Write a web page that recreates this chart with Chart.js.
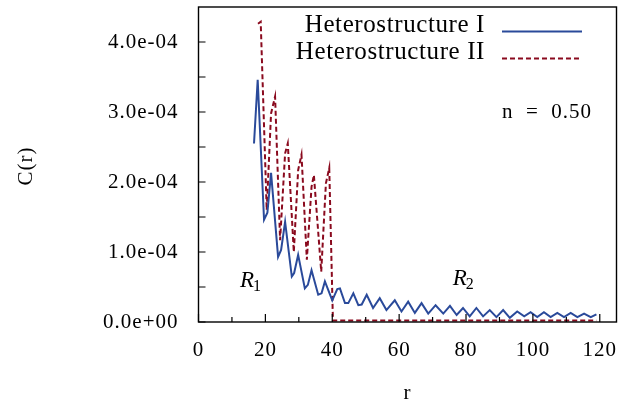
<!DOCTYPE html>
<html><head><meta charset="utf-8">
<script src="https://cdn.jsdelivr.net/npm/chart.js@4"></script>
<style>html,body{margin:0;padding:0;background:#fff}#wrap{width:624px;height:402px}</style>
</head><body><div id="wrap"><canvas id="c" width="624" height="402"></canvas></div>
<script>
// Heterostructure I (solid blue): r and C(r) in units of 1e-4
const rI = [16.6,17.7,19.6,20.6,21.7,23.8,24.7,25.9,27.9,28.6,29.8,31.8,32.7,33.8,35.8,36.8,37.8,40.0,41.5,42.3,43.8,44.8,46.3,47.8,48.8,50.3,52.2,54.2,56.2,58.7,60.7,62.7,64.7,66.7,68.7,70.9,73.2,75.2,77.2,79.1,81.1,83.1,85.1,87.1,89.1,91.1,93.1,95.3,97.4,99.3,101.3,103.3,105.3,107.3,109.3,111.3,113.3,115.3,117.3,119.0];
const cI = [2.55,3.46,1.46,1.56,2.13,0.93,1.03,1.43,0.65,0.70,0.96,0.48,0.53,0.74,0.39,0.41,0.58,0.31,0.47,0.48,0.27,0.27,0.41,0.24,0.25,0.39,0.20,0.34,0.17,0.31,0.15,0.29,0.13,0.27,0.12,0.24,0.12,0.23,0.10,0.20,0.08,0.20,0.08,0.17,0.07,0.17,0.06,0.15,0.08,0.14,0.07,0.14,0.07,0.13,0.07,0.13,0.07,0.12,0.07,0.11];
// Heterostructure II (dashed dark red)
const rII = [17.8,18.6,20.4,21.7,22.9,24.4,25.9,26.7,28.5,29.8,30.8,32.4,33.8,34.5,36.7,38.1,39.1,40.2,60,80,100,119];
const cII = [4.26,4.29,1.60,2.98,3.22,1.17,2.41,2.55,1.00,2.17,2.39,0.89,1.93,2.10,0.72,1.98,2.20,0.02,0.02,0.02,0.02,0.02];
const seriesLabels = ['Heterostructure I','Heterostructure II'];
const seriesColors = ['#2a4a9a','#8a0a1e'];
const xTickStep = 20, xMinorStep = 10, xMax = 125;
const yTickStep = 1, yMinorStep = 0.5, yMax = 4.5;   // units of 1e-4
const yUnit = 1e-4;
const annotationText = 'n = 0.50';
const xTitle = 'r', yTitle = 'C(r)';
const regionLabels = [{base:'R', sub:'1', r:12.4, c:0.50}, {base:'R', sub:'2', r:76.0, c:0.53}];

const SERIF = '"Liberation Serif", "Times New Roman", serif';

function fmt(v){
  const x = v*yUnit;
  if (Math.abs(x) < 1e-12) return '0.0e+00';
  const s = x.toExponential(1);
  const [m, e] = s.split('e');
  const n = parseInt(e,10);
  const sign = n < 0 ? '-' : '+';
  const a = Math.abs(n);
  return m + 'e' + sign + (a < 10 ? '0' + a : '' + a);
}
const pts = (xs, ys) => xs.map((x,i)=>({x:x, y:ys[i]}));

const decor = {
  id:'decor',
  beforeDraw(chart){
    try { chart.ctx.letterSpacing = '1px'; } catch(e) {}
  },
  afterDraw(chart){
    const ctx = chart.ctx, a = chart.chartArea;
    const xs = chart.scales.x, ys = chart.scales.y;
    ctx.save();
    ctx.strokeStyle = '#000';
    ctx.lineWidth = 1.4;
    ctx.strokeRect(a.left, a.top, a.right-a.left, a.bottom-a.top);
    ctx.lineWidth = 1.2;
    ctx.beginPath();
    for (let v = 0; v <= 120 + 1e-9; v += xMinorStep){
      const px = xs.getPixelForValue(v);
      const major = Math.abs(v/xTickStep - Math.round(v/xTickStep)) < 1e-9;
      const len = major ? 8 : 5;
      ctx.moveTo(px, a.bottom); ctx.lineTo(px, a.bottom - len);
    }
    for (let v = 0; v <= 4 + 1e-9; v += yMinorStep){
      const py = ys.getPixelForValue(v);
      ctx.moveTo(a.left, py); ctx.lineTo(a.left + 7, py);
    }
    ctx.stroke();

    // legend
    ctx.fillStyle = '#000';
    ctx.letterSpacing = '0.6px';
    ctx.font = '25px ' + SERIF;
    ctx.textAlign = 'right';
    ctx.textBaseline = 'alphabetic';
    const legY = [32, 59];
    chart.data.datasets.forEach((ds, i)=>{
      ctx.fillText(ds.label, 485, legY[i]);
      ctx.beginPath();
      ctx.strokeStyle = ds.borderColor;
      ctx.lineWidth = ds.borderWidth;
      ctx.setLineDash(ds.borderDash || []);
      ctx.moveTo(502, legY[i]-0.5); ctx.lineTo(582, legY[i]-0.5);
      ctx.stroke();
      ctx.setLineDash([]);
    });

    // annotation
    ctx.letterSpacing = '1px';
    ctx.font = '21px ' + SERIF;
    ctx.textAlign = 'right';
    ctx.fillText(annotationText.replace(/ = /, '  =  '), 592, 118);

    // region labels
    regionLabels.forEach(l=>{
      const px = xs.getPixelForValue(l.r), py = ys.getPixelForValue(l.c);
      ctx.textAlign = 'left';
      ctx.font = 'italic 23px ' + SERIF;
      ctx.fillText(l.base, px, py);
      const w = ctx.measureText(l.base).width;
      ctx.font = '16px ' + SERIF;
      ctx.fillText(l.sub, px + w - 2, py + 4);
    });

    // axis titles
    ctx.font = '21px ' + SERIF;
    ctx.textAlign = 'center';
    ctx.textBaseline = 'middle';
    ctx.fillText(xTitle, (a.left + a.right)/2, 393);
    ctx.translate(26, 166);
    ctx.rotate(-Math.PI/2);
    ctx.fillText(yTitle, 0, 0);
    ctx.restore();
  }
};

new Chart(document.getElementById('c'), {
  type:'line',
  data:{
    datasets:[
      {label:seriesLabels[0], data:pts(rI,cI), borderColor:seriesColors[0], borderWidth:2, pointRadius:0, tension:0, fill:false},
      {label:seriesLabels[1], data:pts(rII,cII), borderColor:seriesColors[1], borderWidth:2, borderDash:[5,3], pointRadius:0, tension:0, fill:false}
    ]
  },
  options:{
    responsive:false, animation:false, devicePixelRatio:1,
    layout:{autoPadding:false, padding:{top:7, right:7.5, left:0, bottom:0}},
    plugins:{legend:{display:false}, tooltip:{enabled:false}},
    scales:{
      x:{type:'linear', min:0, max:xMax,
         grid:{display:false, drawTicks:false}, border:{display:false},
         ticks:{stepSize:xTickStep, includeBounds:false, maxRotation:0, autoSkip:false, padding:16, color:'#000', font:{family:SERIF, size:21}},
         afterFit(s){ s.height = 80; s.paddingLeft = 0; s.paddingRight = 0; }},
      y:{type:'linear', min:0, max:yMax,
         grid:{display:false, drawTicks:false}, border:{display:false},
         ticks:{stepSize:yTickStep, includeBounds:false, autoSkip:false, padding:20, color:'#000', font:{family:SERIF, size:21}, callback:(v)=>fmt(v)},
         afterFit(s){ s.width = 198.5; s.paddingTop = 0; s.paddingBottom = 0; }}
    }
  },
  plugins:[decor]
});
</script></body></html>
